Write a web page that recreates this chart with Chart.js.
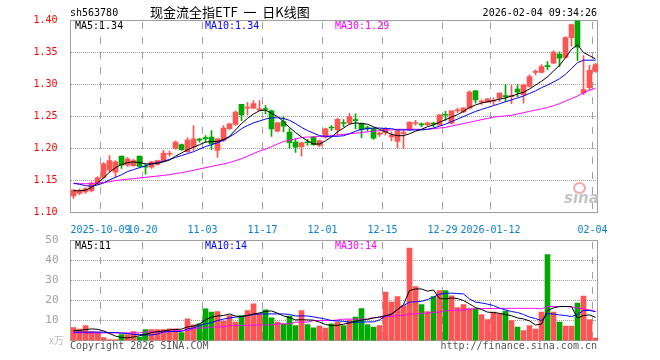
<!DOCTYPE html>
<html>
<head>
<meta charset="utf-8">
<script src="https://cdn.jsdelivr.net/npm/chart.js@4.4.1/dist/chart.umd.min.js"></script>
<style>
  body { margin: 0; background: #fff; width: 660px; height: 360px; overflow: hidden; position: relative; }
  canvas { position: absolute; left: 0; }
  #kline { top: 0; }
  #vol { top: 230px; }
  .t { position: absolute; white-space: nowrap; font-family: "DejaVu Sans Mono", monospace; font-size: 10px; line-height: 12px; }
  .eye { position: absolute; left: 573px; top: 182px; width: 9px; height: 8px; border: 2px solid #f2a8a8; border-radius: 50%; }
</style>
</head>
<body>
<canvas id="kline" width="660" height="235"></canvas>
<canvas id="vol" width="660" height="130"></canvas>

<div class="t" style="left:70px;top:7px;color:#000">sh563780</div>
<div class="t" style="left:150px;top:4px;font-family:'Noto Sans CJK SC';font-size:13px;line-height:16px;color:#000">现金流全指ETF&nbsp;&nbsp;一&nbsp;&nbsp;日K线图</div>
<div class="t" style="right:63px;top:7px;color:#000">2026-02-04 09:34:26</div>

<div class="t" style="left:75px;top:20px;color:#000">MA5:1.34</div>
<div class="t" style="left:205px;top:20px;color:#0000ff">MA10:1.34</div>
<div class="t" style="left:335px;top:20px;color:#ff00ff">MA30:1.29</div>

<div class="t" style="left:75px;top:240px;color:#000">MA5:11</div>
<div class="t" style="left:205px;top:240px;color:#0000ff">MA10:14</div>
<div class="t" style="left:335px;top:240px;color:#ff00ff">MA30:14</div>

<div class="t" style="left:49px;top:334px;color:#bbb;font-family:'Noto Sans CJK SC';font-size:10px">x万</div>
<div class="t" style="left:70px;top:340px;color:#555">Copyright 2026 SINA.COM</div>
<div class="t" style="right:63px;top:340px;color:#555">http://finance.sina.com.cn</div>

<div class="eye"></div>
<div class="t" style="left:564px;top:189px;color:#c4c4c4;font-family:'DejaVu Sans';font-size:15px;line-height:18px;font-weight:bold;font-style:italic">sina</div>

<script>
// trading days shown (one candle per day)
const dates = [
  '2025-09-24','2025-09-25','2025-09-26','2025-09-29','2025-09-30',
  '2025-10-09','2025-10-10','2025-10-13','2025-10-14','2025-10-15','2025-10-16','2025-10-17',
  '2025-10-20','2025-10-21','2025-10-22','2025-10-23','2025-10-24',
  '2025-10-27','2025-10-28','2025-10-29','2025-10-30','2025-10-31',
  '2025-11-03','2025-11-04','2025-11-05','2025-11-06','2025-11-07',
  '2025-11-10','2025-11-11','2025-11-12','2025-11-13','2025-11-14',
  '2025-11-17','2025-11-18','2025-11-19','2025-11-20','2025-11-21',
  '2025-11-24','2025-11-25','2025-11-26','2025-11-27','2025-11-28',
  '2025-12-01','2025-12-02','2025-12-03','2025-12-04','2025-12-05',
  '2025-12-08','2025-12-09','2025-12-10','2025-12-11','2025-12-12',
  '2025-12-15','2025-12-16','2025-12-17','2025-12-18','2025-12-19',
  '2025-12-22','2025-12-23','2025-12-24','2025-12-25','2025-12-26',
  '2025-12-29','2025-12-30','2025-12-31',
  '2026-01-05','2026-01-06','2026-01-07','2026-01-08','2026-01-09',
  '2026-01-12','2026-01-13','2026-01-14','2026-01-15','2026-01-16',
  '2026-01-19','2026-01-20','2026-01-21','2026-01-22','2026-01-23',
  '2026-01-26','2026-01-27','2026-01-28','2026-01-29','2026-01-30',
  '2026-02-02','2026-02-03','2026-02-04'
]
const tickDates = ['2025-10-09','2025-10-20','2025-11-03','2025-11-17','2025-12-01','2025-12-15','2025-12-29','2026-01-12','2026-02-04']
const priceTicks = [1.10, 1.15, 1.20, 1.25, 1.30, 1.35, 1.40]
const volTicks = [0, 10, 20, 30, 40, 50]

const open = [
  1.126,1.130,1.132,1.134,1.145,1.155,1.166,1.163,1.188,1.174,
  1.173,1.188,1.172,1.171,1.175,1.181,1.191,1.200,1.206,1.195,
  1.202,1.2135,1.216,1.218,1.197,1.2125,1.231,1.2375,1.269,1.263,
  1.263,1.260,1.262,1.259,1.227,1.242,1.2255,1.210,1.203,1.210,
  1.2177,1.205,1.2177,1.233,1.229,1.2395,1.2395,1.2445,1.2395,1.232,
  1.231,1.222,1.225,1.218,1.211,1.223,1.229,1.239,1.238,1.237,
  1.2385,1.237,1.2525,1.2395,1.259,1.257,1.263,1.290,1.2725,1.2725,
  1.2735,1.2786,1.2815,1.281,1.293,1.284,1.297,1.319,1.319,1.3285,
  1.3335,1.3475,1.3425,1.373,1.3995,1.287,1.295,1.3205
]
const close = [
  1.135,1.134,1.137,1.146,1.154,1.176,1.181,1.179,1.174,1.184,
  1.181,1.172,1.171,1.179,1.181,1.193,1.192,1.210,1.198,1.213,
  1.215,1.213,1.2155,1.207,1.215,1.232,1.2385,1.257,1.2525,1.264,
  1.270,1.262,1.261,1.2305,1.240,1.235,1.209,1.202,1.209,1.209,
  1.206,1.2125,1.2307,1.232,1.2455,1.239,1.250,1.2435,1.230,1.231,
  1.216,1.224,1.231,1.221,1.228,1.225,1.241,1.240,1.237,1.240,
  1.238,1.2525,1.252,1.259,1.2595,1.263,1.288,1.276,1.273,1.2775,
  1.274,1.2865,1.281,1.2815,1.288,1.2995,1.3125,1.3195,1.328,1.328,
  1.3505,1.341,1.3735,1.3937,1.3585,1.292,1.322,1.331
]
const high = [
  1.136,1.137,1.139,1.148,1.156,1.178,1.189,1.181,1.188,1.186,
  1.183,1.188,1.176,1.180,1.182,1.197,1.196,1.212,1.207,1.217,
  1.236,1.216,1.220,1.228,1.215,1.236,1.239,1.259,1.269,1.272,
  1.275,1.275,1.267,1.260,1.241,1.249,1.231,1.215,1.210,1.214,
  1.219,1.213,1.232,1.236,1.247,1.245,1.255,1.254,1.240,1.235,
  1.232,1.226,1.233,1.226,1.229,1.229,1.242,1.244,1.240,1.241,
  1.241,1.253,1.258,1.259,1.263,1.264,1.290,1.291,1.276,1.278,
  1.279,1.287,1.300,1.299,1.300,1.300,1.315,1.323,1.331,1.336,
  1.3525,1.351,1.375,1.3945,1.400,1.345,1.330,1.333
]
const low = [
  1.122,1.128,1.130,1.132,1.143,1.153,1.163,1.155,1.169,1.172,
  1.172,1.171,1.160,1.169,1.174,1.180,1.188,1.199,1.197,1.194,
  1.197,1.210,1.210,1.198,1.186,1.211,1.230,1.236,1.2435,1.252,
  1.262,1.259,1.254,1.219,1.226,1.226,1.200,1.194,1.188,1.205,
  1.205,1.203,1.216,1.228,1.221,1.234,1.238,1.231,1.217,1.227,
  1.214,1.219,1.221,1.212,1.201,1.200,1.228,1.236,1.234,1.236,
  1.234,1.236,1.244,1.238,1.256,1.256,1.262,1.271,1.269,1.272,
  1.268,1.2735,1.273,1.270,1.281,1.271,1.296,1.315,1.318,1.323,
  1.333,1.328,1.341,1.360,1.3375,1.284,1.291,1.319
]
const ma5 = [
  1.134,1.134,1.135,1.139,1.146,1.154,1.163,1.170,1.175,1.178,
  1.179,1.178,1.176,1.176,1.177,1.179,1.182,1.188,1.193,1.198,
  1.202,1.206,1.210,1.211,1.211,1.214,1.219,1.229,1.239,1.247,
  1.254,1.259,1.260,1.255,1.250,1.242,1.233,1.225,1.218,1.212,
  1.207,1.207,1.212,1.218,1.226,1.232,1.238,1.240,1.239,1.238,
  1.234,1.230,1.226,1.222,1.220,1.220,1.223,1.227,1.230,1.234,
  1.237,1.241,1.245,1.249,1.253,1.258,1.264,1.268,1.271,1.273,
  1.275,1.277,1.279,1.282,1.285,1.288,1.293,1.299,1.305,1.312,
  1.321,1.330,1.342,1.355,1.362,1.350,1.345,1.340
]
const ma10 = [
  1.146,1.144,1.142,1.141,1.143,1.146,1.151,1.155,1.159,1.164,
  1.167,1.170,1.173,1.176,1.178,1.180,1.183,1.186,1.189,1.192,
  1.195,1.199,1.203,1.206,1.209,1.213,1.218,1.224,1.231,1.236,
  1.240,1.243,1.246,1.248,1.248,1.247,1.244,1.239,1.233,1.228,
  1.224,1.220,1.219,1.219,1.219,1.220,1.223,1.227,1.230,1.231,
  1.232,1.232,1.231,1.231,1.229,1.229,1.229,1.229,1.229,1.230,
  1.232,1.235,1.238,1.242,1.246,1.250,1.254,1.258,1.261,1.264,
  1.267,1.270,1.273,1.276,1.279,1.282,1.286,1.290,1.295,1.299,
  1.304,1.309,1.316,1.325,1.334,1.338,1.338,1.338
]
const ma30 = [
  1.145,1.145,1.145,1.145,1.146,1.147,1.148,1.150,1.151,1.152,
  1.153,1.154,1.155,1.156,1.157,1.158,1.159,1.161,1.162,1.164,
  1.166,1.168,1.170,1.172,1.174,1.176,1.178,1.181,1.184,1.188,
  1.192,1.196,1.199,1.203,1.207,1.211,1.213,1.215,1.217,1.218,
  1.218,1.219,1.219,1.220,1.221,1.222,1.223,1.224,1.225,1.226,
  1.227,1.228,1.229,1.229,1.230,1.230,1.230,1.230,1.230,1.230,
  1.231,1.232,1.233,1.235,1.237,1.239,1.241,1.243,1.245,1.247,
  1.249,1.250,1.251,1.252,1.254,1.256,1.258,1.260,1.262,1.264,
  1.267,1.270,1.274,1.278,1.282,1.287,1.291,1.294
]
// volume, in 万
const volume = [
  6.5,5.7,7.5,4.5,4.2,1.5,0.5,0.5,3,3,
  4.5,1.7,5.5,5.5,5.5,5.5,5.8,5.8,4,10.8,
  7.8,8.3,15.8,14.2,14.5,9.7,12.5,9.2,12.5,15,
  18.3,13.3,15.3,11.3,9.2,8.3,12.2,7.5,15,8,
  6.3,7.2,6.2,8.3,9.2,7.5,10.3,11.7,16,8,
  6.7,7.5,24.2,19.2,22,17.5,46.2,27,18,14.5,
  22,25,25,22.3,16.5,18,16,16,13,10.5,
  14.2,13.3,14.7,10,6.7,5,7.5,5.7,14.2,43,
  14.2,9.2,7.2,7.2,18.7,22.2,10.5,1.2
]
const vma5 = [
  5.0,5.0,5.5,5.8,5.6,4.8,3.5,2.2,1.5,1.3,
  1.8,2.4,3.0,4.0,4.4,4.8,5.3,5.5,5.7,6.8,
  7.2,8.3,10.3,11.7,12.3,12.5,13.3,12.2,12.0,12.5,
  13.3,13.8,14.6,14.8,13.7,12.3,11.5,10.3,10.4,10.3,
  10.2,9.2,8.0,7.5,7.6,8.2,8.8,9.6,10.2,10.6,
  11.2,11.8,12.4,13.0,15.5,18.0,25.0,25.8,25.8,24.7,
  25.3,21.0,20.8,21.3,21.0,20.0,18.3,16.5,15.5,14.2,
  14.0,13.6,13.0,12.4,11.3,10.8,9.8,7.8,8.2,15.0,
  16.3,17.0,17.0,17.0,11.2,12.5,12.8,11.6
]
const vma10 = [
  4.2,4.2,4.2,4.2,4.2,4.2,4.0,4.0,3.7,3.5,
  3.0,3.0,2.8,2.8,3.2,4.3,4.5,4.5,4.5,5.8,
  6.3,7.5,8.3,9.0,10.0,10.7,11.3,11.7,12.0,12.5,
  13.0,13.3,13.3,13.3,13.3,13.3,13.0,12.3,12.3,12.3,
  11.8,11.3,10.7,10.0,9.8,9.6,9.2,9.2,9.2,9.3,
  9.3,10.3,12.3,13.3,15.5,17.5,19.2,19.4,19.6,20.5,
  21.7,23.2,23.6,23.7,23.5,23.3,20.8,19.2,18.8,18.2,
  17.5,16.2,15.3,14.5,14.0,13.0,11.7,11.0,10.0,13.5,
  13.2,12.8,12.5,12.0,13.0,15.0,15.0,14.5
]
const vma30 = [
  3.8,3.8,3.8,3.8,3.8,3.8,3.8,3.8,3.8,3.8,
  3.8,3.8,4.3,4.3,4.3,4.3,4.3,5.0,5.0,5.0,
  6.0,6.3,6.3,6.8,6.8,6.8,7.5,7.5,7.5,7.5,
  7.8,7.8,7.8,7.8,8.3,8.3,8.3,9.2,9.2,9.2,
  10.0,10.0,10.0,10.0,10.3,10.7,10.7,10.7,10.7,10.7,
  11.5,11.5,12.0,12.0,12.5,12.5,13.3,13.3,13.7,13.7,
  14.2,14.2,15.0,15.0,15.3,15.3,15.8,15.8,16.0,16.0,
  16.0,16.1,16.1,16.1,16.1,16.1,16.1,16.1,15.8,17.0,
  17.0,17.0,17.0,16.8,16.3,15.8,15.3,14.5
]

const RED = '#ff5454'
const GREEN = '#00a800'
const colors = open.map((o, i) => close[i] >= o ? RED : GREEN)
const tickIdx = tickDates.map(d => dates.indexOf(d))
const font = { family: 'DejaVu Sans Mono', size: 10 }

function tickText(v) {
  const k = tickIdx.indexOf(v)
  if (k < 0) return ''
  const d = tickDates[k]
  if (k == 0 || d.slice(0, 4) != tickDates[k - 1].slice(0, 4)) return d
  return d.slice(5)
}
const pts = arr => arr.map((v, i) => ({ x: i + 0.5, y: v }))
const lineSet = (arr, color) => ({
  type: 'line', data: pts(arr), borderColor: color, borderWidth: 1,
  pointRadius: 0, tension: 0, order: 0
})

// dotted rows and dashed columns at the tick values, plus a grey frame
function makeFrame(yTicks, xTicks) {
  return {
    id: 'frame',
    beforeDatasetsDraw(chart) {
      const { ctx, chartArea: a, scales } = chart
      const L = Math.floor(a.left), R = Math.floor(a.right) - 1
      const T = Math.floor(a.top), B = Math.floor(a.bottom)
      ctx.save()
      ctx.fillStyle = '#9a9a9a'
      for (const v of yTicks) {
        const y = Math.floor(scales.y.getPixelForValue(v))
        for (let x = L + 1; x < R; x += 2) ctx.fillRect(x, y, 1, 1)
      }
      ctx.fillStyle = '#a2a2a2'
      for (const v of xTicks) {
        const x = Math.floor(scales.x.getPixelForValue(v))
        for (let y = T + 2; y < B; y += 15) ctx.fillRect(x, y, 1, Math.min(7, B - y))
      }
      ctx.fillStyle = '#a0a0a0'
      ctx.fillRect(L, T, R - L + 1, 1)
      ctx.fillRect(L, B, R - L + 1, 1)
      ctx.fillRect(L, T, 1, B - T + 1)
      ctx.fillRect(R, T, 1, B - T + 1)
      ctx.restore()
    }
  }
}

const xScale = (showLabels, h) => ({
  type: 'linear', min: 0, max: dates.length, offset: false,
  afterFit: s => { s.height = h },
  afterBuildTicks: s => { s.ticks = tickIdx.map(v => ({ value: v })) },
  ticks: { display: showLabels, callback: tickText, color: '#0a80d0', font, maxRotation: 0, autoSkip: false, padding: 4 },
  grid: { display: false },
  border: { display: false }
})

new Chart(document.getElementById('kline'), {
  type: 'bar',
  data: {
    datasets: [
      lineSet(ma5, '#000000'),
      lineSet(ma10, '#0000ff'),
      lineSet(ma30, '#ff00ff'),
      {
        data: dates.map((d, i) => ({ x: i + 0.5, y: [open[i], close[i]] })),
        backgroundColor: colors, barThickness: 5, minBarLength: 1, grouped: false, order: 1
      },
      {
        data: dates.map((d, i) => ({ x: i + 0.5, y: [low[i], high[i]] })),
        backgroundColor: colors, barThickness: 1, minBarLength: 1, grouped: false, order: 2
      }
    ]
  },
  options: {
    responsive: false, animation: false, devicePixelRatio: 1,
    layout: { padding: { top: 20.5, right: 61.5, left: 0, bottom: 0 } },
    plugins: { legend: { display: false }, tooltip: { enabled: false } },
    scales: {
      x: xScale(true, 22.5),
      y: {
        min: 1.10, max: 1.40, beginAtZero: false,
        afterFit: s => { s.width = 70.5 },
        afterBuildTicks: s => { s.ticks = priceTicks.map(v => ({ value: v })) },
        ticks: { callback: v => v.toFixed(2), color: '#ff0000', font, padding: 5, autoSkip: false },
        grid: { display: false },
        border: { display: false }
      }
    }
  },
  plugins: [makeFrame(priceTicks, tickIdx)]
})

new Chart(document.getElementById('vol'), {
  type: 'bar',
  data: {
    datasets: [
      lineSet(vma5, '#000000'),
      lineSet(vma10, '#0000ff'),
      lineSet(vma30, '#ff00ff'),
      {
        data: volume.map((v, i) => ({ x: i + 0.5, y: v })),
        backgroundColor: colors, barThickness: 5, grouped: false, order: 1
      }
    ]
  },
  options: {
    responsive: false, animation: false, devicePixelRatio: 1,
    layout: { padding: { top: 10.5, right: 61.5, left: 0, bottom: 0 } },
    plugins: { legend: { display: false }, tooltip: { enabled: false } },
    scales: {
      x: xScale(false, 19.5),
      y: {
        min: 0, max: 50,
        afterFit: s => { s.width = 70.5 },
        afterBuildTicks: s => { s.ticks = volTicks.map(v => ({ value: v })) },
        ticks: { callback: v => v == 0 ? '' : v, color: '#a0a0a0', font: { family: 'DejaVu Sans Mono', size: 11 }, padding: 4, autoSkip: false },
        grid: { display: false },
        border: { display: false }
      }
    }
  },
  plugins: [makeFrame(volTicks, tickIdx)]
})
</script>
</body>
</html>
